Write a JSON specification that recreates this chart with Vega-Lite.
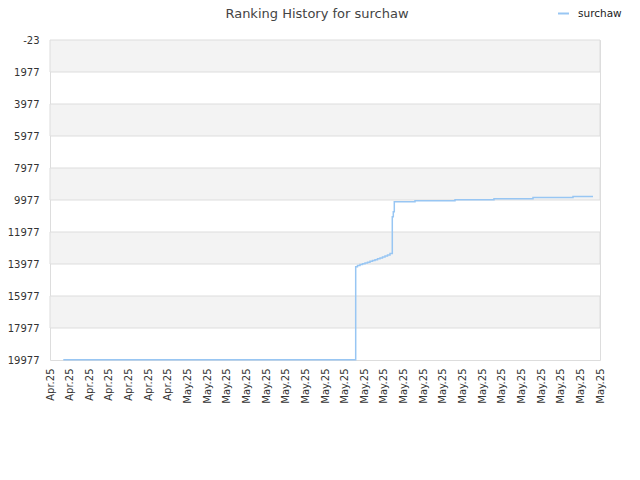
{
  "$schema": "https://vega.github.io/schema/vega-lite/v6.json",
  "width": 550,
  "height": 320,
  "autosize": "none",
  "padding": {"left": 50, "top": 40, "right": 40, "bottom": 120},
  "background": "#ffffff",
  "title": {
    "text": "Ranking History for surchaw",
    "font": "DejaVu Sans",
    "fontSize": 13,
    "fontWeight": "normal",
    "color": "#444444",
    "anchor": "middle",
    "frame": "group",
    "baseline": "alphabetic",
    "dx": -8,
    "dy": 38,
    "offset": 14
  },
  "config": {
    "view": {"stroke": "#dddddd", "strokeWidth": 1},
    "font": "DejaVu Sans",
    "axis": {"labelOverlap": false, "labelFlush": false}
  },
  "datasets": {
    "bands": [
      {"from": -23, "to": 1977},
      {"from": 3977, "to": 5977},
      {"from": 7977, "to": 9977},
      {"from": 11977, "to": 13977},
      {"from": 15977, "to": 17977}
    ],
    "ranks": [
      {"time": "2025-04-24T16:15:00Z", "rank": 19955, "series": "surchaw"},
      {"time": "2025-04-26T00:00:00Z", "rank": 19955, "series": "surchaw"},
      {"time": "2025-05-01T00:00:00Z", "rank": 19955, "series": "surchaw"},
      {"time": "2025-05-06T00:00:00Z", "rank": 19955, "series": "surchaw"},
      {"time": "2025-05-09T13:30:00Z", "rank": 14146, "series": "surchaw"},
      {"time": "2025-05-09T15:42:00Z", "rank": 14071, "series": "surchaw"},
      {"time": "2025-05-09T18:46:00Z", "rank": 14008, "series": "surchaw"},
      {"time": "2025-05-09T21:49:00Z", "rank": 13958, "series": "surchaw"},
      {"time": "2025-05-10T00:52:00Z", "rank": 13914, "series": "surchaw"},
      {"time": "2025-05-10T03:56:00Z", "rank": 13864, "series": "surchaw"},
      {"time": "2025-05-10T06:59:00Z", "rank": 13808, "series": "surchaw"},
      {"time": "2025-05-10T10:02:00Z", "rank": 13758, "series": "surchaw"},
      {"time": "2025-05-10T13:05:00Z", "rank": 13708, "series": "surchaw"},
      {"time": "2025-05-10T16:09:00Z", "rank": 13652, "series": "surchaw"},
      {"time": "2025-05-10T19:12:00Z", "rank": 13602, "series": "surchaw"},
      {"time": "2025-05-10T22:15:00Z", "rank": 13540, "series": "surchaw"},
      {"time": "2025-05-11T01:18:00Z", "rank": 13477, "series": "surchaw"},
      {"time": "2025-05-11T04:22:00Z", "rank": 13415, "series": "surchaw"},
      {"time": "2025-05-11T07:25:00Z", "rank": 13321, "series": "surchaw"},
      {"time": "2025-05-11T10:13:00Z", "rank": 11021, "series": "surchaw"},
      {"time": "2025-05-11T11:27:00Z", "rank": 10708, "series": "surchaw"},
      {"time": "2025-05-11T12:40:00Z", "rank": 10083, "series": "surchaw"},
      {"time": "2025-05-12T13:58:00Z", "rank": 10021, "series": "surchaw"},
      {"time": "2025-05-14T14:50:00Z", "rank": 9958, "series": "surchaw"},
      {"time": "2025-05-16T14:28:00Z", "rank": 9896, "series": "surchaw"},
      {"time": "2025-05-18T14:08:00Z", "rank": 9821, "series": "surchaw"},
      {"time": "2025-05-20T15:00:00Z", "rank": 9758, "series": "surchaw"},
      {"time": "2025-05-21T15:26:00Z", "rank": 9758, "series": "surchaw"}
    ]
  },
  "layer": [
    {
      "data": {"name": "bands"},
      "mark": {"type": "rect", "fill": "#f3f3f3", "stroke": "#dddddd", "strokeWidth": 1},
      "encoding": {
        "y": {
          "field": "from",
          "type": "quantitative",
          "axis": {
            "title": null,
            "format": "d",
            "labelExpr": "replace(datum.label, '\u2212', '-')",
            "values": [-23, 1977, 3977, 5977, 7977, 9977, 11977, 13977, 15977, 17977, 19977],
            "labelFontSize": 10,
            "labelColor": "#333333",
            "labelPadding": 11,
            "labelOverlap": false,
            "ticks": false,
            "domain": false,
            "grid": false
          }
        },
        "y2": {"field": "to"}
      }
    },
    {
      "data": {"name": "ranks"},
      "mark": {"type": "line", "interpolate": "step-after", "strokeWidth": 1.5},
      "encoding": {
        "x": {
          "field": "time",
          "type": "temporal",
          "scale": {
            "type": "utc",
            "domain": [
              {"year": 2025, "month": 4, "date": 24, "utc": true},
              {"year": 2025, "month": 5, "date": 22, "utc": true}
            ]
          },
          "axis": {
            "title": null,
            "format": "%b.%y",
            "tickCount": {"interval": "day", "step": 1},
            "labelAngle": -90,
            "labelAlign": "right",
            "labelBaseline": "middle",
            "labelFontSize": 10,
            "labelColor": "#333333",
            "labelPadding": 8,
            "labelOverlap": false,
            "ticks": false,
            "domain": false,
            "grid": false
          }
        },
        "y": {
          "field": "rank",
          "type": "quantitative",
          "scale": {"domain": [-23, 19977], "reverse": true, "nice": false, "zero": false},
          "axis": {
            "title": null,
            "format": "d",
            "labelExpr": "replace(datum.label, '\u2212', '-')",
            "values": [-23, 1977, 3977, 5977, 7977, 9977, 11977, 13977, 15977, 17977, 19977],
            "labelFontSize": 10,
            "labelColor": "#333333",
            "labelPadding": 11,
            "labelOverlap": false,
            "ticks": false,
            "domain": false,
            "grid": false
          }
        },
        "color": {
          "field": "series",
          "type": "nominal",
          "scale": {"range": ["#98c6f3"]},
          "legend": {
            "title": null,
            "orient": "none",
            "legendX": 507,
            "legendY": -33,
            "symbolType": "stroke",
            "symbolStrokeWidth": 2,
            "symbolSize": 120,
            "labelFontSize": 10.5,
            "labelColor": "#222222",
            "labelOffset": 8
          }
        }
      }
    }
  ]
}
